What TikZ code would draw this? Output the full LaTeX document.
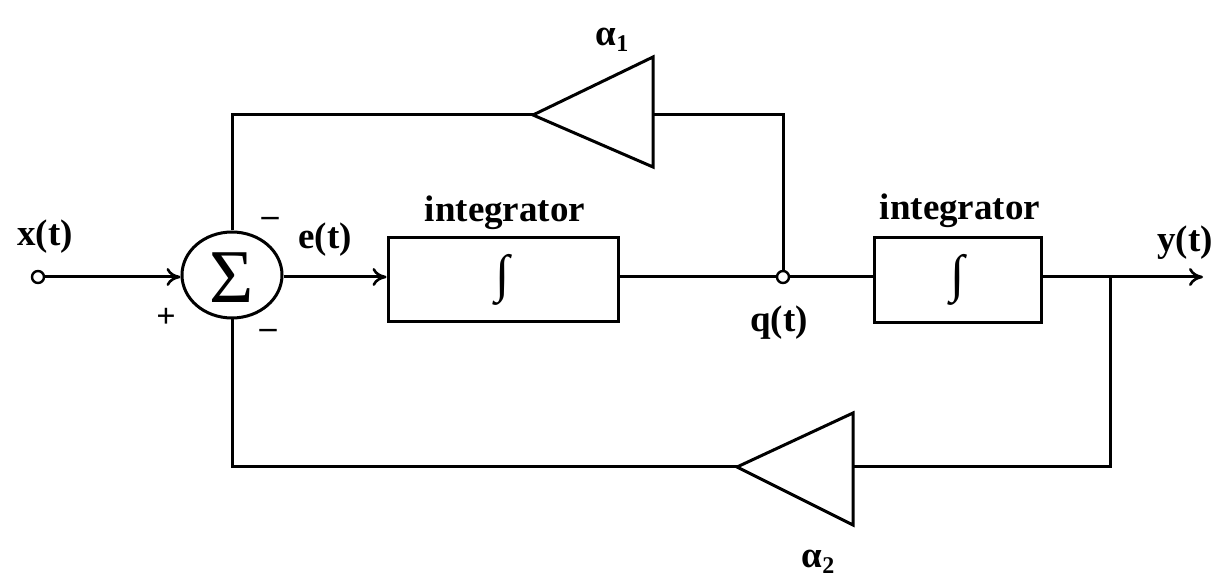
\documentclass[tikz,border=0pt]{standalone}
\usepackage{fontspec}
\setmainfont{Liberation Serif}
\usetikzlibrary{arrows.meta,shapes.geometric}
\begin{document}
\begin{tikzpicture}[x=0.5pt,y=-0.5pt,
  wire/.style={line width=1.5pt},
  arr/.style={wire,-{To[length=7pt,width=9pt,line width=1.3pt]}},
  blockbox/.style={draw,line width=1.5pt,minimum width=115pt,minimum height=42pt,inner sep=0pt},
  smallcirc/.style={draw,circle,line width=1.2pt,minimum size=6pt,inner sep=0pt,fill=white},
  lbl/.style={font=\fontsize{18.5}{20}\selectfont\bfseries,inner sep=0pt},
  sgn/.style={font=\fontsize{17}{18}\selectfont\bfseries,inner sep=0pt},
  amp/.style={draw,line width=1.5pt,line join=miter}]
\useasboundingbox (0,0) rectangle (1222,588);
% nodes
\node[smallcirc] (in) at (38,277) {};
\node[draw,ellipse,line width=1.5pt,minimum width=50pt,minimum height=43pt,inner sep=0pt] (sum) at (232,275) {};
\node[inner sep=0pt] (sig) at (232,278) {\fontsize{38}{40}\selectfont Σ};
\node[blockbox] (b1) at (503,280) {\fontsize{26}{28}\selectfont ∫};
\node[smallcirc] (q) at (783,277) {};
\node[blockbox,minimum width=83.5pt,minimum height=42.5pt] (b2) at (958,280) {\fontsize{26}{28}\selectfont ∫};
\coordinate (out) at (1203,277);
\coordinate (br) at (1110,277);
\coordinate (brd) at (1110,467);
\coordinate (tl) at (232,115);
\coordinate (qt) at (783,115);
\coordinate (bl) at (232,467);
% amplifiers
\coordinate (a1tip) at (533,115);
\coordinate (a1base) at (653,115);
\draw[amp] (a1tip) -- (653,57) -- (653,167) -- cycle;
\coordinate (a2tip) at (737,467);
\coordinate (a2base) at (853,467);
\draw[amp] (a2tip) -- (853,413) -- (853,525) -- cycle;
% connectors
\draw[arr] (in) -- (sum.west |- in);
\draw[arr] (sum.east |- in) -- (b1.west |- in);
\draw[wire] (b1.east |- q) -- (q);
\draw[wire] (q) -- (b2.west |- q);
\draw[arr] (b2.east |- out) -- (out);
\draw[wire] (br) -- (brd) -- (a2base);
\draw[wire] (a2tip) -- (bl) -- (sum.south);
\draw[wire] (q) -- (qt) -- (a1base);
\draw[wire] (a1tip) -- (tl) -- (sum.north);
% labels
\node[lbl] (xl) at (45,237) {x(t)};
\node[lbl] (el) at (325,240) {e(t)};
\node[lbl] (i1) at (505,213) {integrator};
\node[lbl] (i2) at (960,211) {integrator};
\node[lbl] (ql) at (779,323) {q(t)};
\node[lbl] (yl) at (1185,243) {y(t)};
\node[lbl] (al1) at (612,40) {α\raisebox{-0.35ex}{\fontsize{12}{12}\selectfont 1}};
\node[lbl] (al2) at (818,562) {α\raisebox{-0.35ex}{\fontsize{12}{12}\selectfont 2}};
\node[sgn] (m1) at (270,222) {–};
\node[sgn] (p1) at (166,318) {+};
\node[sgn] (m2) at (268,334) {–};
\end{tikzpicture}
\end{document}
